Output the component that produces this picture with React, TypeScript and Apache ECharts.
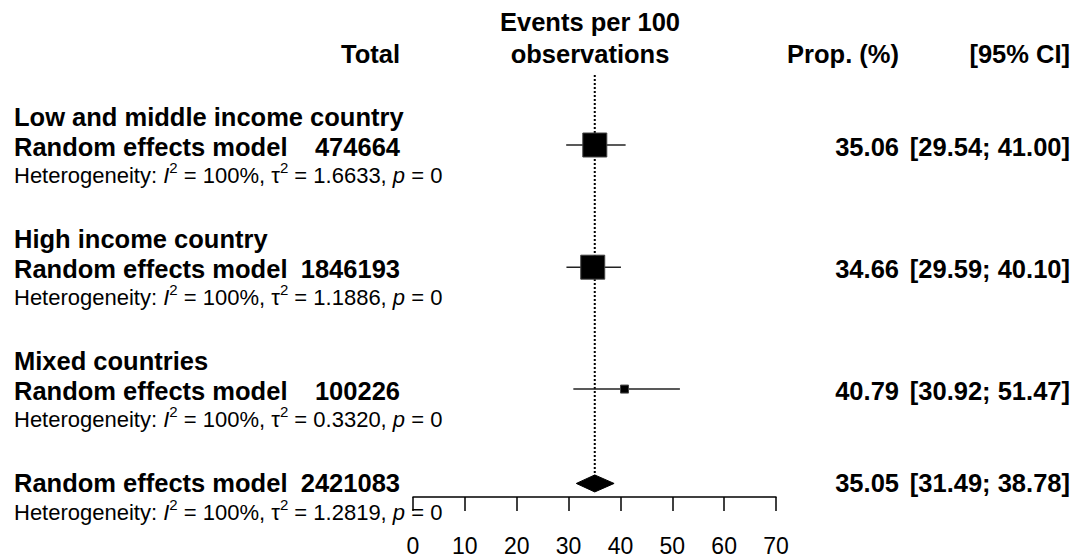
import React, { useEffect, useRef } from "react";
import * as echarts from "echarts";

// ---------- data ----------
const groups = ["Low and middle income country", "High income country", "Mixed countries"];
const totals = [474664, 1846193, 100226];
const props = [35.06, 34.66, 40.79];
const lowers = [29.54, 29.59, 30.92];
const uppers = [41.0, 40.1, 51.47];
const i2s = [100, 100, 100];
const tau2s = [1.6633, 1.1886, 0.332];
const pvals = [0, 0, 0];

const overallTotal = 2421083;
const overallProp = 35.05;
const overallLower = 31.49;
const overallUpper = 38.78;
const overallI2 = 100;
const overallTau2 = 1.2819;
const overallP = 0;

const xTickMin = 0;
const xTickMax = 70;
const xTickStep = 10;

// ---------- layout / style ----------
const FONT = '"Liberation Sans", Arial, Helvetica, sans-serif';
const ROW = 29.3;
const AXIS_Y = 497;
const GRID_LEFT = 413;
const GRID_WIDTH = 363;
const groupRows = [4, 8.17, 12.33];
const overallRow = 16.5;
const refTopRow = 2.56;
const BOX_SIZES = [24, 24, 8];
const BOX_OFFSET = -1.5;
const DIAMOND_HALF = 8.5;
const BOLD_SIZE = 25.5;
const HET_SIZE = 22;

const LEFT_X = 14;
const TOTAL_RIGHT = 400;
const PROP_RIGHT = 899;
const CI_RIGHT = 1070;
const HEAD_CENTER = 590;

const bold = (text: string, x: number, y: number, align: string) => ({
  type: "text",
  x,
  y,
  silent: true,
  style: {
    text,
    fill: "#000",
    fontFamily: FONT,
    fontWeight: "bold",
    fontSize: BOLD_SIZE,
    align,
    verticalAlign: "middle",
    textAlign: align,
    textVerticalAlign: "middle",
  },
});

const hetText = (i2: number, tau2: number, p: number, y: number) => ({
  type: "text",
  x: LEFT_X,
  y,
  silent: true,
  style: {
    text: `{n|Heterogeneity: }{i|I}{s|2}{n| = ${i2}%, τ}{s|2}{n| = ${tau2.toFixed(4)}, }{i|p}{n| = ${p}}`,
    fill: "#000",
    fontFamily: FONT,
    fontSize: HET_SIZE,
    align: "left",
    verticalAlign: "middle",
    textAlign: "left",
    textVerticalAlign: "middle",
    rich: {
      n: { fontFamily: FONT, fontSize: HET_SIZE, lineHeight: 32, fill: "#000" },
      i: { fontFamily: FONT, fontSize: HET_SIZE, lineHeight: 32, fontStyle: "italic", fill: "#000" },
      s: { fontFamily: FONT, fontSize: 15, lineHeight: 14, verticalAlign: "top", fill: "#000" },
    },
  },
});

export default function App() {
  const ref = useRef<HTMLDivElement>(null);

  useEffect(() => {
    if (!ref.current) return;
    const chart = echarts.init(ref.current, undefined, { renderer: "svg" });

    const graphics: any[] = [];
    // header
    graphics.push(bold("Events per 100", HEAD_CENTER, 22, "center"));
    graphics.push(bold("observations", HEAD_CENTER, 54, "center"));
    graphics.push(bold("Total", TOTAL_RIGHT, 54, "right"));
    graphics.push(bold("Prop. (%)", PROP_RIGHT, 54, "right"));
    graphics.push(bold("[95% CI]", CI_RIGHT, 54, "right"));

    groups.forEach((g, i) => {
      const r = groupRows[i];
      graphics.push(bold(g, LEFT_X, r * ROW, "left"));
      graphics.push(bold("Random effects model", LEFT_X, (r + 1) * ROW, "left"));
      graphics.push(bold(String(totals[i]), TOTAL_RIGHT, (r + 1) * ROW, "right"));
      graphics.push(bold(props[i].toFixed(2), PROP_RIGHT, (r + 1) * ROW, "right"));
      graphics.push(
        bold(`[${lowers[i].toFixed(2)}; ${uppers[i].toFixed(2)}]`, CI_RIGHT, (r + 1) * ROW, "right")
      );
      graphics.push(hetText(i2s[i], tau2s[i], pvals[i], (r + 2) * ROW));
    });

    graphics.push(bold("Random effects model", LEFT_X, overallRow * ROW, "left"));
    graphics.push(bold(String(overallTotal), TOTAL_RIGHT, overallRow * ROW, "right"));
    graphics.push(bold(overallProp.toFixed(2), PROP_RIGHT, overallRow * ROW, "right"));
    graphics.push(
      bold(`[${overallLower.toFixed(2)}; ${overallUpper.toFixed(2)}]`, CI_RIGHT, overallRow * ROW, "right")
    );
    graphics.push(hetText(overallI2, overallTau2, overallP, (overallRow + 1) * ROW));

    const option: any = {
      animation: false,
      grid: { left: GRID_LEFT, width: GRID_WIDTH, top: 0, height: AXIS_Y, show: false },
      xAxis: {
        type: "value",
        position: "bottom",
        min: xTickMin,
        max: xTickMax,
        interval: xTickStep,
        splitLine: { show: false },
        axisLine: { show: true, onZero: false, lineStyle: { color: "#000", width: 1.5 } },
        axisTick: { show: true, inside: false, length: 14, lineStyle: { color: "#000", width: 1.5 } },
        axisLabel: {
          color: "#000",
          fontFamily: FONT,
          fontSize: 23,
          margin: 37,
          showMinLabel: true,
          showMaxLabel: true,
        },
      },
      yAxis: {
        type: "value",
        min: 0,
        max: AXIS_Y / ROW,
        inverse: true,
        show: false,
        splitLine: { show: false },
      },
      series: [
        {
          type: "line",
          symbol: "none",
          silent: true,
          z: 1,
          data: [
            [overallProp, refTopRow],
            [overallProp, overallRow],
          ],
          lineStyle: { color: "#000", width: 2, type: [2, 2] },
        },
        {
          type: "custom",
          z: 3,
          silent: true,
          encode: { x: [0, 2, 3], y: 1 },
          data: groupRows.map((r, i) => [props[i], r + 1, lowers[i], uppers[i]]),
          renderItem: (params: any, api: any) => {
            const y = api.value(1);
            const c = api.coord([api.value(0), y]);
            const l = api.coord([api.value(2), y]);
            const h = api.coord([api.value(3), y]);
            const s = BOX_SIZES[params.dataIndex];
            const cy = c[1] + BOX_OFFSET;
            return {
              type: "group",
              children: [
                {
                  type: "line",
                  shape: { x1: l[0], y1: cy, x2: h[0], y2: cy },
                  style: { stroke: "#222", lineWidth: 1.6 },
                },
                {
                  type: "rect",
                  shape: { x: c[0] - s / 2, y: cy - s / 2, width: s, height: s },
                  style: { fill: "#000", stroke: "#444", lineWidth: 1 },
                },
              ],
            };
          },
        },
        {
          type: "custom",
          z: 3,
          silent: true,
          encode: { x: [0, 2, 3], y: 1 },
          data: [[overallProp, overallRow, overallLower, overallUpper]],
          renderItem: (params: any, api: any) => {
            const y = api.value(1);
            const c = api.coord([api.value(0), y]);
            const l = api.coord([api.value(2), y]);
            const h = api.coord([api.value(3), y]);
            return {
              type: "polygon",
              shape: {
                points: [
                  [l[0], c[1]],
                  [c[0], c[1] - DIAMOND_HALF],
                  [h[0], c[1]],
                  [c[0], c[1] + DIAMOND_HALF],
                ],
              },
              style: { fill: "#000", stroke: "#000", lineWidth: 1 },
            };
          },
        },
      ],
      graphic: graphics,
    };

    chart.setOption(option);
    return () => chart.dispose();
  }, []);

  return (
    <div
      ref={ref}
      style={{ position: "fixed", left: 0, top: 0, width: 1075, height: 560, background: "#fff" }}
    />
  );
}
